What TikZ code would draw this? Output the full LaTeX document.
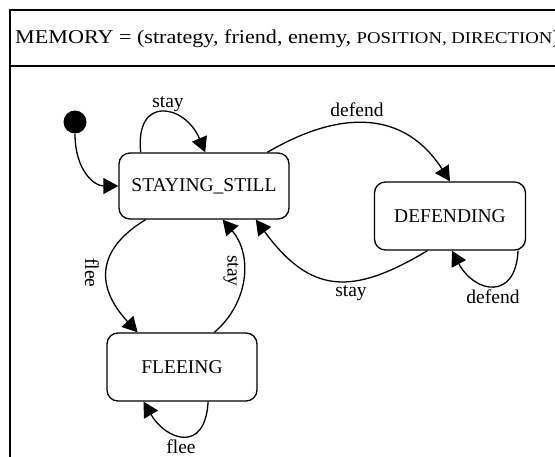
\documentclass[tikz,border=0pt]{standalone}
\usepackage{fontspec}
\setmainfont{Liberation Serif}
\usetikzlibrary{arrows.meta}
\tikzset{
  statebox/.style={draw, line width=1.3pt, rounded corners=11pt, inner sep=0pt,
    font=\fontsize{19.5}{22}\selectfont},
  conn/.style={line width=1.3pt, -{Triangle[length=15pt,width=16pt]}},
  lbl/.style={inner sep=0pt, font=\fontsize{19.5}{22}\selectfont},
  frame/.style={line width=1.4pt},
}
\begin{document}
\begin{tikzpicture}[x=1pt, y=-1pt]
\useasboundingbox (0,0) rectangle (555,457);
% frame
\draw[frame] (10,470) -- (10,10) -- (570,10);
\draw[frame] (10,66) -- (570,66);
\node[anchor=base west, inner sep=0pt, font=\fontsize{19.5}{22}\selectfont] (hdr) at (15,44)
  {\scalebox{1.135}[1]{MEMORY = (strategy, friend, enemy, {\fontsize{16.5}{18}\selectfont POSITION, DIRECTION})}};
% states
\node[circle, fill=black, minimum size=23pt, inner sep=0pt] (init) at (75,122) {};
\node[statebox, minimum width=170pt, minimum height=66pt] (ss) at (204,186) {STAYING\_STILL};
\node[statebox, minimum width=151pt, minimum height=68pt] (def) at (450,216) {DEFENDING};
\node[statebox, minimum width=150pt, minimum height=68pt] (fl) at (182,367) {FLEEING};
% connectors
\draw[conn] (init.south) .. controls +(0,37) and +(-24,0) .. (ss.west);
\draw[conn] (ss.152) .. controls +(-6,-58) and +(-20,-48) .. (ss.88);
\draw[conn] (ss.28) .. controls +(75,-44) and +(-45,-70) .. (def.north);
\draw[conn] (def.237) .. controls +(-75,45) and +(55,75) .. (ss.327);
\draw[conn] (def.333) .. controls +(-2,50) and +(23,43) .. (def.273);
\draw[conn] (ss.210) .. controls +(-50,30) and +(-42,-45) .. (fl.142);
\draw[conn] (fl.47) .. controls +(35,-30) and +(30,35) .. (ss.299);
\draw[conn] (fl.307) .. controls +(-3,53) and +(22,38) .. (fl.222);
% labels
\node[lbl] (l1) at (168,104) {stay};
\node[lbl] (l2) at (357,110) {defend};
\node[lbl] (l3) at (351,293) {stay};
\node[lbl] (l4) at (493,297) {defend};
\node[lbl, rotate=-90] (l5) at (92,273) {flee};
\node[lbl, rotate=-90] (l6) at (231,271) {stay};
\node[lbl] (l7) at (181,447) {flee};
\end{tikzpicture}
\end{document}
